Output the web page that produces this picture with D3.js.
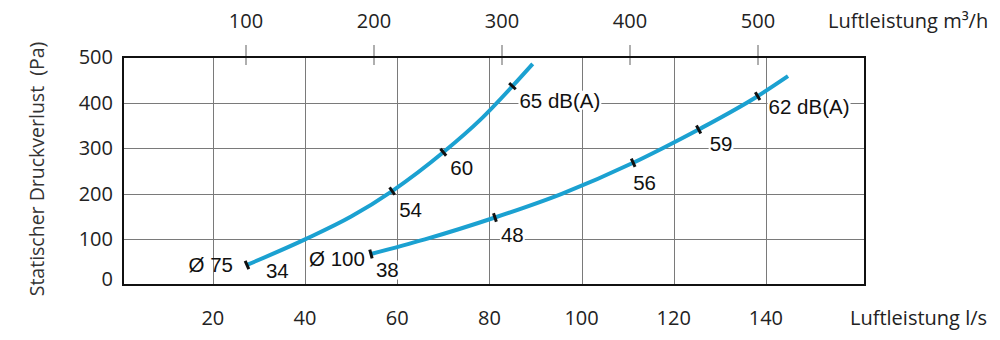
<!DOCTYPE html>
<html>
<head>
<meta charset="utf-8">
<script src="https://cdn.jsdelivr.net/npm/d3@7"></script>
<style>
  html, body { margin: 0; padding: 0; background: #fff; }
  svg { display: block; }
</style>
</head>
<body>
<svg id="chart" width="1000" height="340"></svg>
<script>
// Pressure-loss curves for the two duct diameters (flow in l/s, static pressure in Pa)
const flow75 = [27.4, 40, 50, 58.9, 70, 78, 85, 89.4];
const pressure75 = [44, 100, 150, 206, 291, 362, 436, 485];
const flow100 = [54.3, 66, 81.2, 95.7, 111.2, 117.6, 125.4, 138.2, 144.8];
const pressure100 = [68, 100, 148, 200, 268, 300, 341, 414, 458];

// Sound level markers on each curve
const noiseFlow75 = [27.4, 58.9, 70, 85];
const noiseLabels75 = ["34", "54", "60", "65 dB(A)"];
const noiseFlow100 = [54.3, 81.2, 111.2, 125.4, 138.2];
const noiseLabels100 = ["38", "48", "56", "59", "62 dB(A)"];

const curveNames = ["Ø 75", "Ø 100"];

// Axis ticks
const flowTicks = [20, 40, 60, 80, 100, 120, 140];
const pressureTicks = [0, 100, 200, 300, 400, 500];
const m3hTicks = [100, 200, 300, 400, 500];

const axisFont = "'Open Sans', 'Noto Sans', sans-serif";
const labelFont = "'Liberation Sans', Arial, sans-serif";
const curveColor = "#1ba1d1";

const svg = d3.select("#chart");

const x = d3.scaleLinear().domain([0.5, 161.5]).range([123, 865]);
const y = d3.scaleLinear().domain([0, 500]).range([285, 57]);
const xTop = d3.scaleLinear().domain([100, 500]).range([246, 758]);

const [x0, x1] = x.range();
const [yb, yt] = y.range();

// Grid
const grid = svg.append("g").attr("stroke", "#7a7a7a").attr("stroke-width", 1);
grid.selectAll("line.v").data(flowTicks).join("line")
  .attr("x1", d => Math.round(x(d)) + 0.5).attr("x2", d => Math.round(x(d)) + 0.5)
  .attr("y1", yt).attr("y2", yb);
grid.selectAll("line.h").data(pressureTicks.filter(d => d > 0 && d < 500)).join("line")
  .attr("x1", x0).attr("x2", x1)
  .attr("y1", d => Math.round(y(d)) + 0.5).attr("y2", d => Math.round(y(d)) + 0.5);

// Top axis (m³/h)
const topAxis = svg.append("g");
topAxis.selectAll("line").data(m3hTicks).join("line")
  .attr("x1", d => xTop(d)).attr("x2", d => xTop(d))
  .attr("y1", yt - 12).attr("y2", yt + 8)
  .attr("stroke", "#7a7a7a").attr("stroke-width", 1.2);
topAxis.selectAll("text").data(m3hTicks).join("text")
  .attr("x", d => xTop(d)).attr("y", 28)
  .attr("text-anchor", "middle")
  .attr("font-family", axisFont).attr("font-size", 20).attr("fill", "#222")
  .text(d => d);
svg.append("text")
  .attr("x", 828).attr("y", 28)
  .attr("font-family", axisFont).attr("font-size", 20).attr("fill", "#222")
  .text("Luftleistung m³/h");

// Bottom axis (l/s)
svg.append("g").selectAll("text").data(flowTicks).join("text")
  .attr("x", d => x(d)).attr("y", 325)
  .attr("text-anchor", "middle")
  .attr("font-family", axisFont).attr("font-size", 20).attr("fill", "#222")
  .text(d => d);
svg.append("text")
  .attr("x", 850).attr("y", 325)
  .attr("font-family", axisFont).attr("font-size", 20).attr("fill", "#222")
  .text("Luftleistung l/s");

// Left axis (Pa)
svg.append("g").selectAll("text").data(pressureTicks).join("text")
  .attr("x", 113).attr("y", d => y(d) + (d === 0 ? 1 : 7))
  .attr("text-anchor", "end")
  .attr("font-family", axisFont).attr("font-size", 20).attr("fill", "#222")
  .text(d => d);
svg.append("text")
  .attr("transform", "translate(36,169) rotate(-90)")
  .attr("text-anchor", "middle").attr("dominant-baseline", "central")
  .attr("font-family", axisFont).attr("font-size", 19.5).attr("fill", "#333")
  .attr("xml:space", "preserve")
  .text("Statischer Druckverlust  (Pa)");

// Frame
svg.append("rect")
  .attr("x", x0).attr("y", yt).attr("width", x1 - x0).attr("height", yb - yt)
  .attr("fill", "none").attr("stroke", "#111").attr("stroke-width", 2);

// Curves
const line = d3.line().x(d => x(d[0])).y(d => y(d[1])).curve(d3.curveMonotoneX);
const curves = [
  { flow: flow75, pressure: pressure75, noiseFlow: noiseFlow75, noise: noiseLabels75,
    offsets: [[19, 6], [7, 18], [7, 15], [7, 14]], name: curveNames[0], nameOffset: [-14, 0], nameBg: false },
  { flow: flow100, pressure: pressure100, noiseFlow: noiseFlow100, noise: noiseLabels100,
    offsets: [[5, 16], [6, 17], [0, 20], [11, 14], [11, 10]], name: curveNames[1], nameOffset: [-6, 5], nameBg: false }
];

const labelLayer = svg.append("g");

function addLabel(g, px, py, text, anchor, bg) {
  const t = g.append("text")
    .attr("x", px).attr("y", py)
    .attr("text-anchor", anchor).attr("dominant-baseline", "central")
    .attr("font-family", labelFont).attr("font-size", 20.5).attr("fill", "#111")
    .text(text);
  if (bg) {
    const b = t.node().getBBox();
    g.insert("rect", () => t.node())
      .attr("x", b.x - 1).attr("y", b.y + 2).attr("width", b.width + 2).attr("height", b.height - 4)
      .attr("fill", "#fff");
  }
}

curves.forEach(c => {
  const pts = c.flow.map((f, i) => [f, c.pressure[i]]);
  svg.append("path")
    .attr("d", line(pts))
    .attr("fill", "none").attr("stroke", curveColor).attr("stroke-width", 4);

  // Marker ticks drawn perpendicular to the curve
  c.noiseFlow.forEach((f, k) => {
    const i = c.flow.indexOf(f);
    const a = pts[Math.max(0, i - 1)], b = pts[Math.min(pts.length - 1, i + 1)];
    const dx = x(b[0]) - x(a[0]), dy = y(b[1]) - y(a[1]);
    const len = Math.hypot(dx, dy);
    const nx = -dy / len, ny = dx / len;
    const px = x(f), py = y(c.pressure[i]);
    svg.append("line")
      .attr("x1", px - nx * 4.5).attr("y1", py - ny * 4.5)
      .attr("x2", px + nx * 4.5).attr("y2", py + ny * 4.5)
      .attr("stroke", "#111").attr("stroke-width", 3);
    const [ox, oy] = c.offsets[k];
    addLabel(labelLayer, px + ox, py + oy, c.noise[k], "start", true);
  });

  const sx = x(c.flow[0]), sy = y(c.pressure[0]);
  addLabel(labelLayer, sx + c.nameOffset[0], sy + c.nameOffset[1], c.name, "end", c.nameBg);
});
</script>
</body>
</html>
